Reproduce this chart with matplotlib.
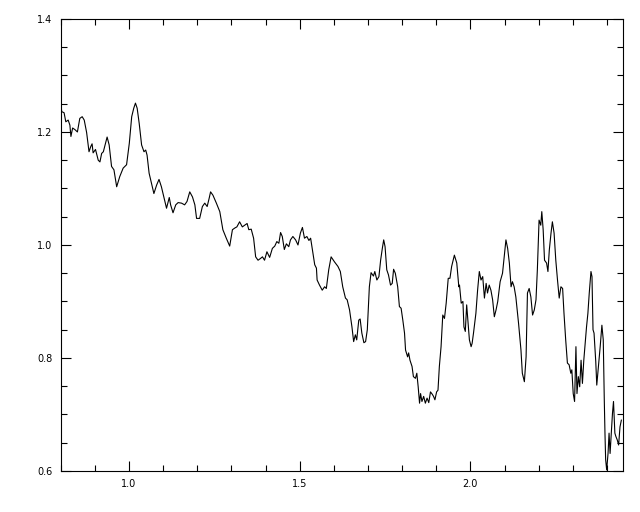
import matplotlib
matplotlib.use("Agg")
import matplotlib.pyplot as plt
from matplotlib.ticker import MultipleLocator, FormatStrFormatter

# wavelength-like x values and the flux
x = [0.801, 0.803, 0.810, 0.815, 0.822, 0.827, 0.830, 0.835, 0.842, 0.849,
     0.856, 0.863, 0.869, 0.876, 0.883, 0.888, 0.892, 0.895, 0.902, 0.910,
     0.915, 0.920, 0.925, 0.930, 0.936, 0.942, 0.949, 0.956, 0.964, 0.973,
     0.983, 0.993, 1.001, 1.008, 1.014, 1.019, 1.024, 1.030, 1.037, 1.044,
     1.049, 1.053, 1.059, 1.066, 1.073, 1.081, 1.088, 1.095, 1.102, 1.110,
     1.118, 1.122, 1.129, 1.137, 1.144, 1.154, 1.163, 1.170, 1.178, 1.186,
     1.193, 1.198, 1.207, 1.215, 1.222, 1.229, 1.235, 1.239, 1.246, 1.256,
     1.266, 1.275, 1.285, 1.295, 1.303, 1.310, 1.316, 1.324, 1.332, 1.339,
     1.346, 1.351, 1.358, 1.365, 1.371, 1.378, 1.385, 1.391, 1.397, 1.404,
     1.412, 1.420, 1.427, 1.433, 1.439, 1.444, 1.449, 1.455, 1.461, 1.468,
     1.473, 1.480, 1.488, 1.495, 1.502, 1.508, 1.514, 1.521, 1.527, 1.532,
     1.539, 1.544, 1.549, 1.551, 1.558, 1.566, 1.573, 1.578, 1.585, 1.592,
     1.602, 1.612, 1.619, 1.626, 1.634, 1.639, 1.646, 1.653, 1.658, 1.663,
     1.667, 1.673, 1.677, 1.682, 1.688, 1.693, 1.698, 1.704, 1.709, 1.716,
     1.720, 1.726, 1.732, 1.737, 1.742, 1.746, 1.750, 1.755, 1.760, 1.766,
     1.771, 1.775, 1.780, 1.787, 1.792, 1.797, 1.802, 1.807, 1.810, 1.816,
     1.819, 1.823, 1.829, 1.833, 1.839, 1.843, 1.847, 1.851, 1.854, 1.858,
     1.863, 1.868, 1.873, 1.878, 1.883, 1.888, 1.892, 1.896, 1.901, 1.905,
     1.909, 1.914, 1.919, 1.924, 1.929, 1.935, 1.940, 1.945, 1.953, 1.960,
     1.966, 1.968, 1.973, 1.978, 1.981, 1.985, 1.989, 1.997, 2.002, 2.005,
     2.009, 2.016, 2.021, 2.026, 2.031, 2.036, 2.041, 2.046, 2.050, 2.055,
     2.060, 2.065, 2.070, 2.075, 2.080, 2.087, 2.094, 2.099, 2.104, 2.109,
     2.114, 2.119, 2.123, 2.128, 2.133, 2.141, 2.148, 2.152, 2.158, 2.163,
     2.167, 2.172, 2.177, 2.182, 2.187, 2.192, 2.196, 2.201, 2.206, 2.209,
     2.213, 2.217, 2.223, 2.227, 2.231, 2.236, 2.240, 2.245, 2.250, 2.255,
     2.260, 2.265, 2.270, 2.274, 2.279, 2.284, 2.289, 2.294, 2.297, 2.301,
     2.305, 2.309, 2.312, 2.316, 2.320, 2.324, 2.328, 2.332, 2.336, 2.340,
     2.344, 2.348, 2.353, 2.356, 2.359, 2.362, 2.367, 2.370, 2.375, 2.380,
     2.385, 2.389, 2.392, 2.394, 2.396, 2.399, 2.403, 2.406, 2.409, 2.413,
     2.416, 2.419, 2.423, 2.426, 2.430, 2.434, 2.438, 2.442]

flux = [1.248, 1.236, 1.234, 1.218, 1.221, 1.212, 1.192, 1.207, 1.204, 1.200,
        1.224, 1.227, 1.221, 1.199, 1.165, 1.174, 1.179, 1.163, 1.169, 1.150,
        1.147, 1.162, 1.165, 1.177, 1.191, 1.177, 1.139, 1.133, 1.103, 1.121,
        1.136, 1.142, 1.180, 1.227, 1.242, 1.251, 1.242, 1.215, 1.177, 1.165,
        1.168, 1.159, 1.127, 1.109, 1.091, 1.106, 1.116, 1.103, 1.085, 1.065,
        1.084, 1.071, 1.057, 1.071, 1.075, 1.074, 1.071, 1.077, 1.094, 1.085,
        1.071, 1.047, 1.047, 1.068, 1.074, 1.068, 1.083, 1.094, 1.088, 1.074,
        1.059, 1.027, 1.012, 0.998, 1.027, 1.030, 1.032, 1.041, 1.032, 1.035,
        1.038, 1.027, 1.028, 1.012, 0.979, 0.973, 0.976, 0.979, 0.973, 0.988,
        0.978, 0.994, 0.998, 1.006, 1.003, 1.022, 1.015, 0.992, 1.002, 0.997,
        1.009, 1.015, 1.009, 1.000, 1.021, 1.031, 1.012, 1.015, 1.008, 1.012,
        0.985, 0.965, 0.959, 0.938, 0.929, 0.920, 0.926, 0.923, 0.956, 0.979,
        0.970, 0.962, 0.953, 0.926, 0.906, 0.903, 0.885, 0.855, 0.829, 0.841,
        0.832, 0.867, 0.869, 0.844, 0.827, 0.829, 0.850, 0.926, 0.951, 0.945,
        0.953, 0.938, 0.944, 0.973, 0.994, 1.009, 0.997, 0.956, 0.947, 0.929,
        0.932, 0.957, 0.950, 0.926, 0.891, 0.888, 0.867, 0.844, 0.814, 0.802,
        0.809, 0.796, 0.785, 0.767, 0.764, 0.773, 0.749, 0.720, 0.737, 0.723,
        0.732, 0.720, 0.729, 0.721, 0.740, 0.736, 0.732, 0.726, 0.740, 0.743,
        0.785, 0.820, 0.876, 0.870, 0.897, 0.941, 0.941, 0.962, 0.982, 0.968,
        0.926, 0.929, 0.897, 0.900, 0.855, 0.847, 0.894, 0.832, 0.820, 0.826,
        0.844, 0.879, 0.920, 0.953, 0.938, 0.944, 0.906, 0.932, 0.915, 0.929,
        0.920, 0.903, 0.873, 0.885, 0.900, 0.935, 0.950, 0.979, 1.009, 0.994,
        0.968, 0.926, 0.935, 0.926, 0.908, 0.861, 0.814, 0.773, 0.758, 0.802,
        0.915, 0.923, 0.908, 0.876, 0.885, 0.903, 0.956, 1.044, 1.035, 1.059,
        1.027, 0.973, 0.968, 0.953, 0.991, 1.021, 1.041, 1.021, 0.973, 0.938,
        0.906, 0.926, 0.923, 0.879, 0.832, 0.791, 0.788, 0.773, 0.779, 0.737,
        0.723, 0.820, 0.737, 0.767, 0.749, 0.796, 0.755, 0.796, 0.826, 0.855,
        0.879, 0.915, 0.953, 0.944, 0.850, 0.844, 0.794, 0.752, 0.785, 0.820,
        0.858, 0.832, 0.726, 0.667, 0.620, 0.602, 0.631, 0.667, 0.631, 0.673,
        0.702, 0.723, 0.667, 0.661, 0.655, 0.646, 0.678, 0.690]

fig = plt.figure(figsize=(6.4, 5.12), dpi=100)
ax = fig.add_axes([0.0948, 0.0801, 0.973 - 0.0948, 0.963 - 0.0801])

ax.plot(x, flux, color="black", lw=0.8)

ax.set_xlim(0.8, 2.446)
ax.set_ylim(0.6, 1.4)

# IDL-ish axes: ticks on all four sides, pointing in
ax.xaxis.set_major_locator(MultipleLocator(0.5))
ax.xaxis.set_minor_locator(MultipleLocator(0.1))
ax.yaxis.set_major_locator(MultipleLocator(0.2))
ax.yaxis.set_minor_locator(MultipleLocator(0.05))
ax.xaxis.set_major_formatter(FormatStrFormatter("%.1f"))
ax.yaxis.set_major_formatter(FormatStrFormatter("%.1f"))
ax.tick_params(which="both", direction="in", top=True, right=True,
               width=0.8, labelsize=7, pad=6)
ax.tick_params(which="major", length=7)
ax.tick_params(which="minor", length=4)
for s in ax.spines.values():
    s.set_linewidth(0.8)

fig.savefig("out.png", dpi=100)
